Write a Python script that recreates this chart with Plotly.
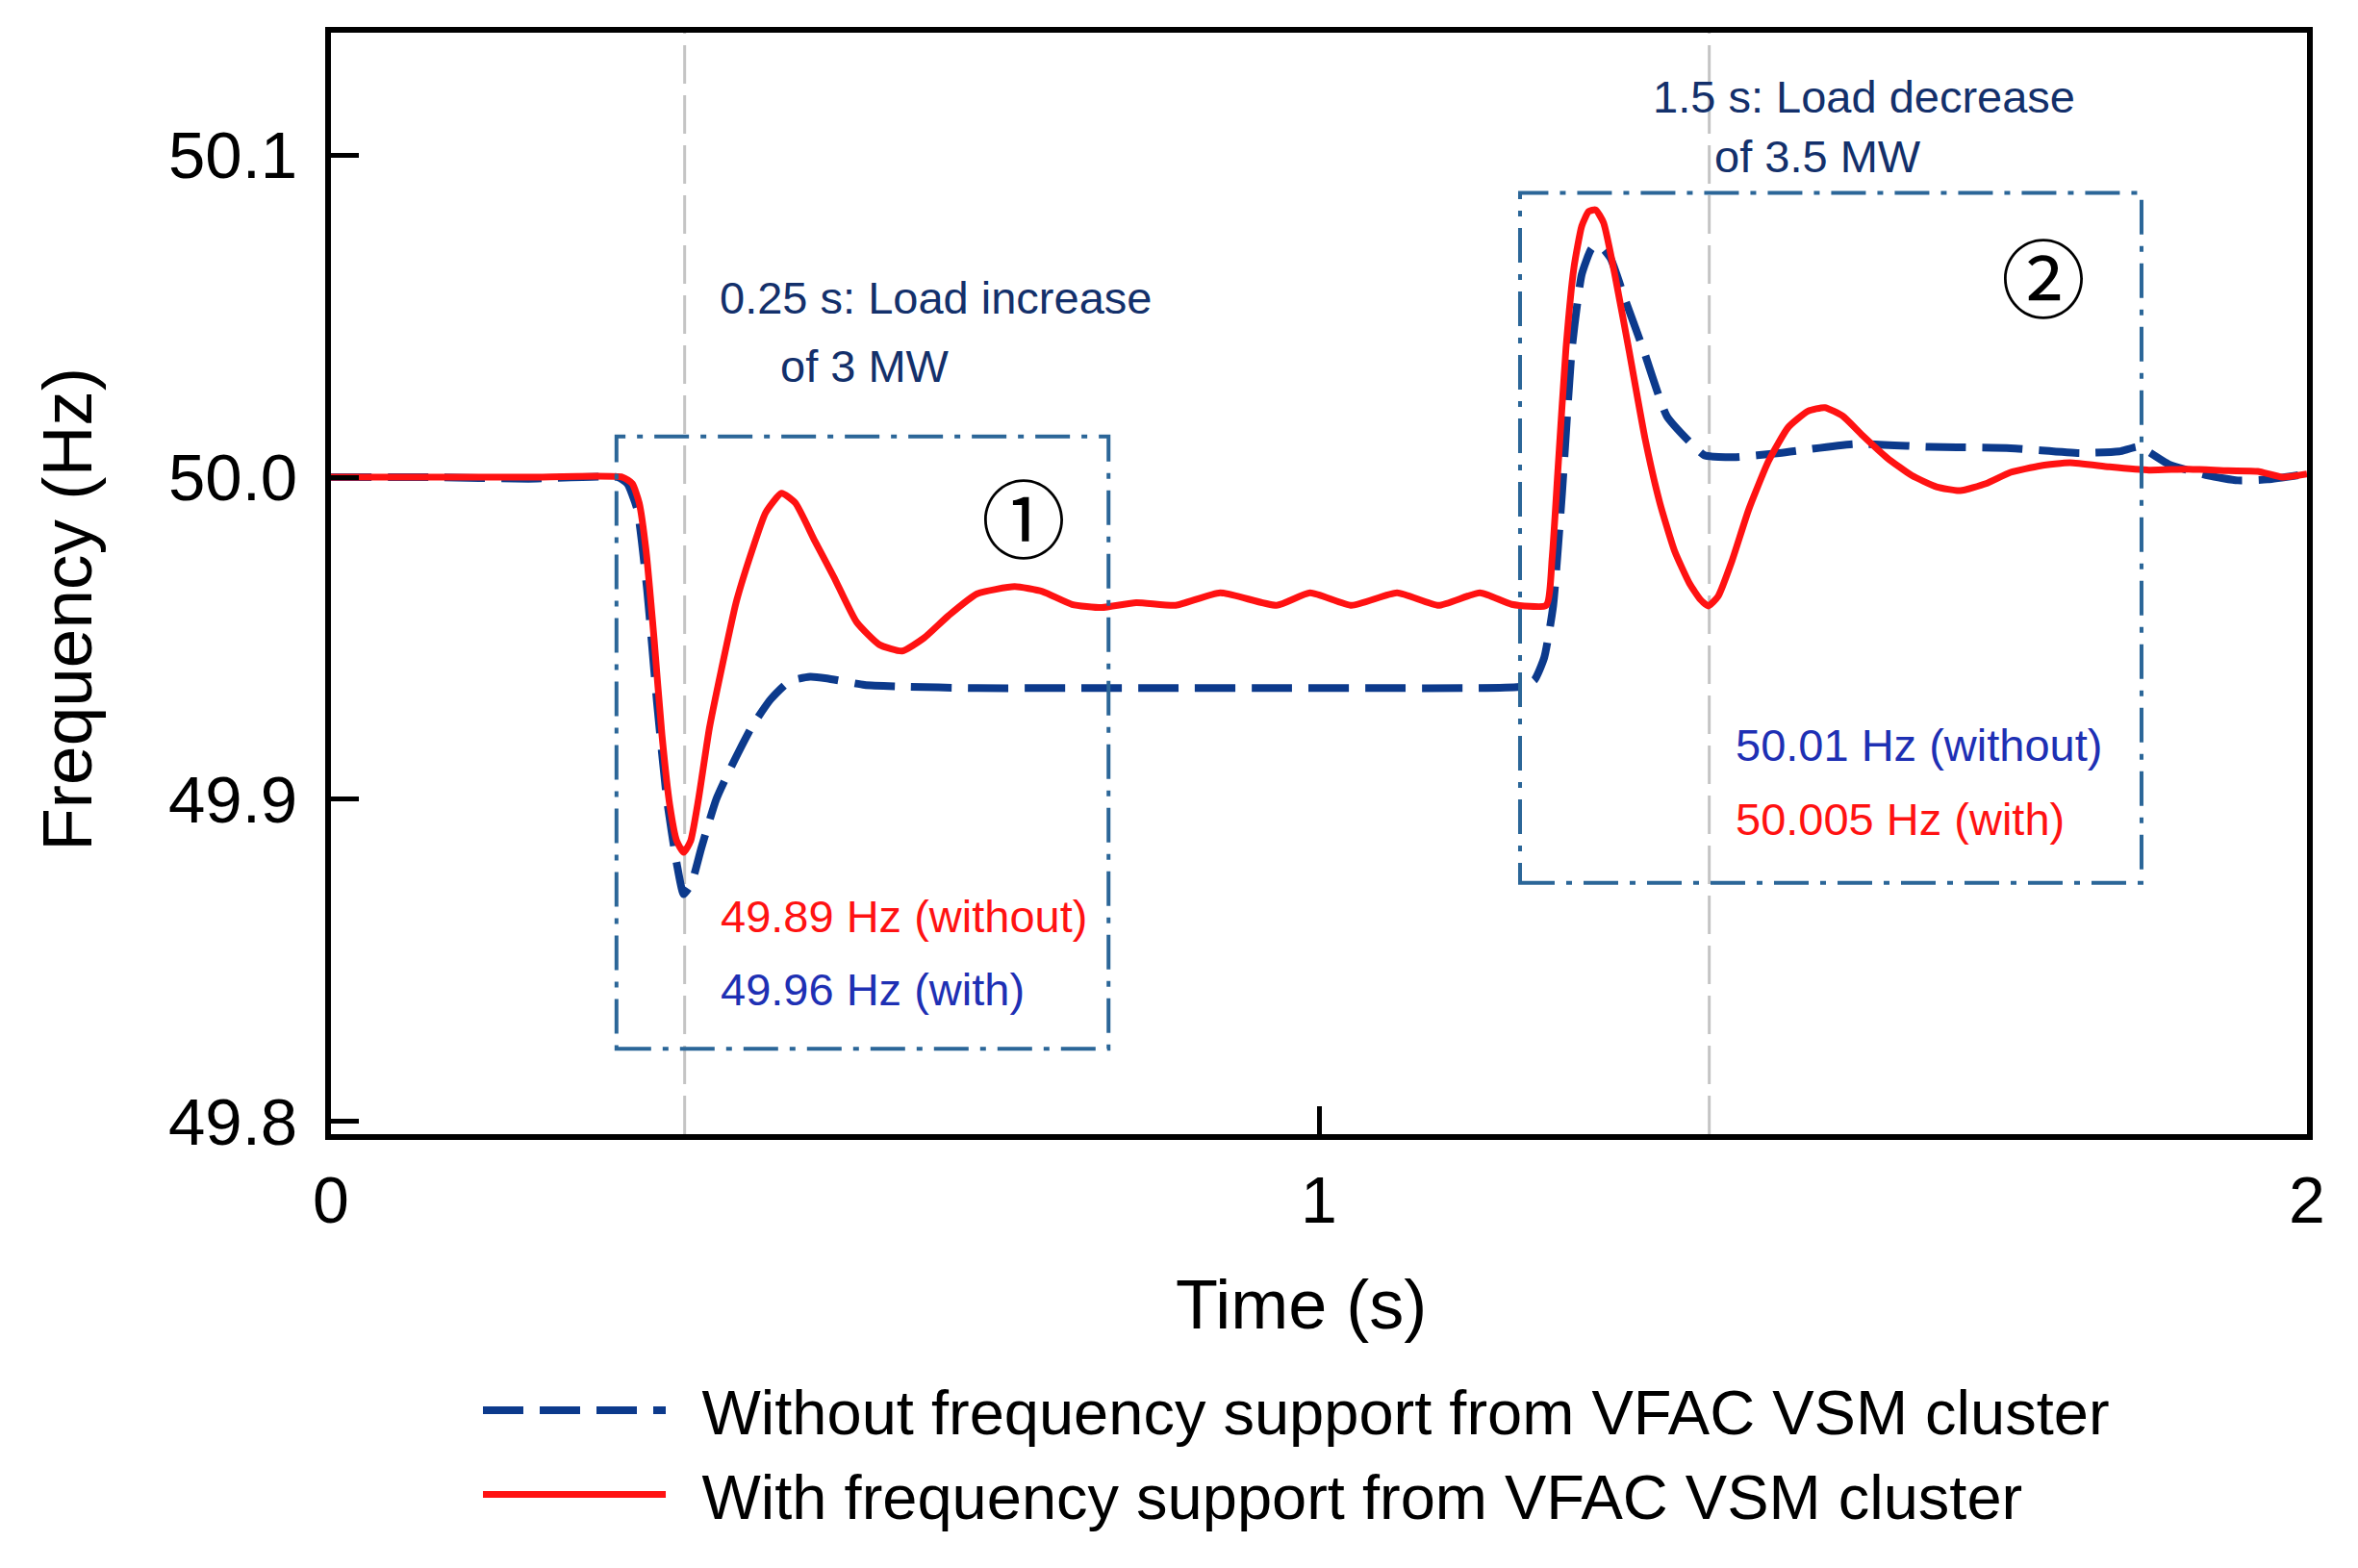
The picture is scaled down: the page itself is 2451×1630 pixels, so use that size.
import plotly.graph_objects as go

# ---------------- data ----------------
t_without = [0.0, 0.10, 0.20, 0.29, 0.300, 0.310, 0.320, 0.330, 0.340, 0.350, 0.357, 0.365,
             0.375, 0.390, 0.405, 0.426, 0.445, 0.464, 0.485, 0.502, 0.540, 0.578, 0.650,
             0.750, 0.850, 0.950, 1.050, 1.150, 1.205, 1.218, 1.228, 1.237, 1.246, 1.256,
             1.266, 1.276, 1.284, 1.295, 1.310, 1.329, 1.352, 1.375, 1.390, 1.420, 1.466,
             1.542, 1.618, 1.700, 1.770, 1.810, 1.830, 1.860, 1.900, 1.930, 1.960, 2.000]
f_without = [50.0, 50.0, 49.9995, 50.0, 49.998, 49.990, 49.965, 49.930, 49.900, 49.880,
             49.8705, 49.874, 49.885, 49.900, 49.910, 49.9225, 49.931, 49.9366, 49.938,
             49.9375, 49.9355, 49.935, 49.9345, 49.9345, 49.9345, 49.9345, 49.9345, 49.9345,
             49.935, 49.937, 49.944, 49.960, 49.995, 50.040, 50.063, 50.071, 50.072, 50.068,
             50.055, 50.039, 50.019, 50.011, 50.0068, 50.0062, 50.0075, 50.0103, 50.0094,
             50.009, 50.0075, 50.008, 50.0094, 50.004, 50.0005, 49.999, 49.9993, 50.001]

t_with = [0.0, 0.10, 0.20, 0.295, 0.305, 0.312, 0.319, 0.327, 0.335, 0.343, 0.350, 0.357,
          0.364, 0.372, 0.383, 0.395, 0.410, 0.426, 0.440, 0.456, 0.470, 0.490, 0.509,
          0.532, 0.555, 0.578, 0.600, 0.625, 0.654, 0.692, 0.720, 0.750, 0.780, 0.815,
          0.855, 0.900, 0.957, 0.991, 1.033, 1.079, 1.121, 1.163, 1.195, 1.230, 1.236,
          1.242, 1.250, 1.258, 1.266, 1.273, 1.280, 1.288, 1.300, 1.314, 1.330, 1.345,
          1.360, 1.375, 1.386, 1.394, 1.404, 1.418, 1.435, 1.455, 1.475, 1.495, 1.512,
          1.530, 1.550, 1.575, 1.600, 1.625, 1.649, 1.675, 1.700, 1.730, 1.760, 1.800,
          1.840, 1.880, 1.920, 1.950, 1.975, 2.000]
f_with = [50.0, 50.0, 50.0, 50.0, 49.998, 49.992, 49.977, 49.950, 49.920, 49.898, 49.887,
          49.8835, 49.887, 49.900, 49.922, 49.940, 49.961, 49.977, 49.989, 49.995, 49.992,
          49.980, 49.969, 49.955, 49.948, 49.946, 49.950, 49.957, 49.9638, 49.966, 49.9645,
          49.9605, 49.9595, 49.961, 49.9602, 49.9641, 49.9602, 49.9641, 49.9602, 49.9641,
          49.9602, 49.9641, 49.9605, 49.9602, 49.975, 50.003, 50.040, 50.065, 50.078,
          50.0825, 50.083, 50.079, 50.062, 50.039, 50.012, 49.992, 49.977, 49.967, 49.962,
          49.960, 49.963, 49.974, 49.990, 50.005, 50.0155, 50.0205, 50.0216, 50.019,
          50.013, 50.006, 50.0005, 49.997, 49.9958, 49.998, 50.0015, 50.0035, 50.0045,
          50.0032, 50.0022, 50.0025, 50.002, 50.0018, 50.000, 50.001]

series_names = ["Without frequency support from VFAC VSM cluster",
                "With frequency support from VFAC VSM cluster"]
y_tick_vals = [49.8, 49.9, 50.0, 50.1]
y_tick_text = ["49.8", "49.9", "50.0", "50.1"]
x_tick_vals = [0, 1, 2]
x_tick_text = ["0", "1", "2"]
event_times = [0.358, 1.395]

# ---------------- styles ----------------
FONT = "Liberation Sans, Arial, sans-serif"
BLUE = "rgb(12,58,140)"
RED = "rgb(255,18,18)"
NAVY = "#13306b"
TXT_BLUE = "#1e30b4"
BOX = "#2b6698"
GAP = "\u2002"

fig = go.Figure()
fig.add_trace(go.Scatter(x=t_without, y=f_without, mode="lines", name=GAP + series_names[0],
                         line=dict(color=BLUE, width=8, dash="42px,17px",
                                   shape="spline", smoothing=0.5)))
fig.add_trace(go.Scatter(x=t_with, y=f_with, mode="lines", name=GAP + series_names[1],
                         line=dict(color=RED, width=7, shape="spline", smoothing=0.5)))

shapes = []
for et in event_times:
    shapes.append(dict(type="line", xref="x", yref="paper", x0=et, x1=et, y0=0, y1=1,
                       line=dict(color="#c4c4c4", width=3, dash="40px,12px"), layer="below"))
shapes.append(dict(type="rect", xref="x", yref="y", x0=0.289, x1=0.787, y0=49.8225, y1=50.0126,
                   line=dict(color=BOX, width=4, dash="36px,12px,6px,12px")))
shapes.append(dict(type="rect", xref="x", yref="y", x0=1.2035, x1=1.8325, y0=49.874, y1=50.0883,
                   line=dict(color=BOX, width=4, dash="36px,12px,6px,12px")))

ann = []
def A(x, y, text, color, size=47, xanchor="center", **kw):
    d = dict(x=x, y=y, xref="x", yref="y", text=text, showarrow=False,
             font=dict(family=FONT, size=size, color=color), xanchor=xanchor, yanchor="middle")
    d.update(kw)
    ann.append(d)

A(0.6115, 50.0557, "0.25 s: Load increase", NAVY)
A(0.540, 50.0344, "of 3 MW", NAVY)
A(1.552, 50.118, "1.5 s: Load decrease", NAVY)
A(1.505, 50.0997, "of 3.5 MW", NAVY)
A(0.392, 49.8638, "49.89 Hz (without)", RED, xanchor="left")
A(0.392, 49.841, "49.96 Hz (with)", TXT_BLUE, xanchor="left")
A(1.4197, 49.9168, "50.01 Hz (without)", TXT_BLUE, xanchor="left")
A(1.4197, 49.8937, "50.005 Hz (with)", RED, xanchor="left")
ann.append(dict(x=0.701, y=49.9886, xref="x", yref="y", text="①", showarrow=False,
                font=dict(family="Noto Sans CJK SC", size=88, color="black")))
ann.append(dict(x=1.733, y=50.0632, xref="x", yref="y", text="②", showarrow=False,
                font=dict(family="Noto Sans CJK SC", size=88, color="black")))
# axis titles
ann.append(dict(x=0.491, y=-0.155, xref="paper", yref="paper", text="Time (s)", showarrow=False,
                font=dict(family=FONT, size=72, color="black"), xanchor="center", yanchor="middle"))
ann.append(dict(x=-0.1334, y=0.477, xref="paper", yref="paper", text="Frequency (Hz)",
                showarrow=False, textangle=-90,
                font=dict(family=FONT, size=73, color="black"), xanchor="center", yanchor="middle"))

fig.update_layout(
    width=2451, height=1630,
    margin=dict(l=336, r=61, t=26, b=459),
    paper_bgcolor="white", plot_bgcolor="white",
    font=dict(family=FONT, color="black"),
    shapes=shapes, annotations=ann,
    showlegend=True,
    legend=dict(x=0.0745, y=-0.208, xanchor="left", yanchor="top",
                font=dict(family=FONT, size=65, color="black"),
                itemwidth=190, bgcolor="rgba(0,0,0,0)", tracegroupgap=0),
)
fig.update_xaxes(range=[0, 2], tickvals=x_tick_vals, ticktext=x_tick_text,
                 showgrid=False, zeroline=False, showline=True, linecolor="black", linewidth=6,
                 mirror=True, ticks="inside", ticklen=29, tickwidth=5, tickcolor="black",
                 tickfont=dict(family=FONT, size=68, color="black"), ticklabelstandoff=4)
fig.update_yaxes(range=[49.796, 50.138], tickvals=y_tick_vals, ticktext=y_tick_text,
                 showgrid=False, zeroline=False, showline=True, linecolor="black", linewidth=6,
                 mirror=True, ticks="inside", ticklen=29, tickwidth=5, tickcolor="black",
                 tickfont=dict(family=FONT, size=69, color="black"), ticklabelstandoff=15)

fig.write_html("out.html")
